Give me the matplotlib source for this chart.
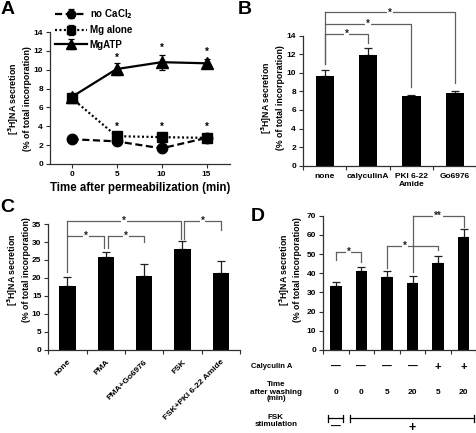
import numpy as np
import matplotlib
matplotlib.use("Agg")
import matplotlib.pyplot as plt
import matplotlib.transforms as mtransforms

plt.rcParams['font.family'] = ['Liberation Sans', 'DejaVu Sans']
plt.rcParams['font.weight'] = 'bold'

# ---------------- data ----------------
# Panel A
timeA = [0, 5, 10, 15]
noCa = [2.63, 2.4, 1.66, 2.77]
noCa_err = [0.1, 0.15, 0.4, 0.2]
mgAlone = [7.0, 2.95, 2.85, 2.77]
mgAlone_err = [0.2, 0.2, 0.2, 0.2]
mgATP = [7.1, 10.07, 10.8, 10.68]
mgATP_err = [0.3, 0.68, 0.8, 0.42]
seriesA_labels = ['no CaCl$_\\mathbf{2}$', 'Mg alone', 'MgATP']

# Panel B
catB = ['none', 'calyculinA', 'PKI 6-22\nAmide', 'Go6976']
valB = [9.66, 11.9, 7.47, 7.79]
errB = [0.64, 0.8, 0.1, 0.25]

# Panel C
catC = ['none', 'PMA', 'PMA+Go6976', 'FSK', 'FSK+PKI 6-22 Amide']
valC = [17.8, 25.7, 20.6, 28.1, 21.5]
errC = [2.6, 1.6, 3.2, 2.2, 3.3]

# Panel D
valD = [33.6, 41.2, 37.9, 35.1, 45.6, 59.1]
errD = [1.7, 2.3, 3.5, 3.5, 3.4, 3.9]
calyD = ['—', '—', '—', '—', '+', '+']
timeD = ['0', '0', '5', '20', '5', '20']

W, H = 477, 433
fig = plt.figure(figsize=(W / 100, H / 100), dpi=100)

def px_axes(x0, x1, ytop, ybot):
    return fig.add_axes([x0 / W, 1 - ybot / H, (x1 - x0) / W, (ybot - ytop) / H])

AX_COL = '#303030'
BR_COL = '#606060'
TICK_FS = 6
LAB_FS = 6.3

def style_axes(ax):
    for s in ['top', 'right']:
        ax.spines[s].set_visible(False)
    for s in ['left', 'bottom']:
        ax.spines[s].set_color(AX_COL)
        ax.spines[s].set_linewidth(0.9)
    ax.tick_params(which='both', direction='out', length=3, width=0.8,
                   color=AX_COL, labelsize=TICK_FS, pad=2)

def fig_ylabel(xpx, ypx):
    fig.text(xpx / W, 1 - ypx / H, '[$^\\mathbf{3}$H]NA secretion\n(% of total incorporation)',
             rotation=90, ha='center', va='center', multialignment='center',
             fontsize=LAB_FS, fontweight='bold', linespacing=1.2)

def bracket(ax, xl, xr, y, yl, yr, label, xs=None, draw_left=True):
    xs = (xl + xr) / 2 if xs is None else xs
    if draw_left:
        ax.plot([xl, xl], [yl, y], color=BR_COL, lw=0.9, clip_on=False)
    ax.plot([xl, xr, xr], [y, y, yr], color=BR_COL, lw=0.9, clip_on=False)
    ax.text(xs, y, label, ha='center', va='center', fontsize=7, fontweight='bold',
            color='#202020', clip_on=False,
            bbox=dict(facecolor='white', edgecolor='none', pad=0.6))

def cat_axes(ax, n):
    ax.set_xlim(-0.5, n - 0.5)
    ax.set_xticks(np.arange(n))
    ax.set_xticks(np.arange(-0.5, n, 1.0), minor=True)
    ax.tick_params(axis='x', which='major', length=0)

# ---------------- Panel A ----------------
axA = px_axes(50, 230, 32, 164)
style_axes(axA)
axA.set_xlim(-2.4, 17.6)
axA.set_ylim(0, 14)
axA.set_xticks(timeA)
axA.set_yticks(np.arange(0, 15, 2))
lw = 1.6
axA.errorbar(timeA, noCa, yerr=noCa_err, color='black', lw=lw, ls=(0, (3.2, 1.6)),
             marker='o', ms=7.5, capsize=2.5, elinewidth=0.9, capthick=0.9,
             label=seriesA_labels[0], clip_on=False, zorder=3)
axA.errorbar(timeA, mgAlone, yerr=mgAlone_err, color='black', lw=lw, ls=(0, (0.9, 1.1)),
             marker='s', ms=6.8, capsize=2.5, elinewidth=0.9, capthick=0.9,
             label=seriesA_labels[1], clip_on=False, zorder=3)
axA.errorbar(timeA, mgATP, yerr=mgATP_err, color='black', lw=lw, ls='-',
             marker='^', ms=8.8, capsize=2.5, elinewidth=0.9, capthick=0.9,
             label=seriesA_labels[2], clip_on=False, zorder=3)
for xs, ys in zip(timeA[1:], [11.25, 12.3, 11.9]):
    axA.text(xs, ys, '*', ha='center', va='center', fontsize=7)
for xs in timeA[1:]:
    axA.text(xs, 3.95, '*', ha='center', va='center', fontsize=7)
axA.set_xlabel('Time after permeabilization (min)', fontsize=8.3, fontweight='bold', labelpad=3)
leg = axA.legend(loc='upper left', bbox_to_anchor=(55 / W, 1 - 7 / H),
                 bbox_transform=fig.transFigure, frameon=False, fontsize=7,
                 handlelength=3.3, handletextpad=0.25, labelspacing=0.45,
                 borderpad=0, borderaxespad=0, markerscale=0.8)
fig_ylabel(19.5, 99)
fig.text(8 / W, 1 - 9 / H, 'A', fontsize=14, fontweight='bold', ha='center', va='center')

# ---------------- Panel B ----------------
axB = px_axes(303, 476.5, 35.7, 165.7)
style_axes(axB)
cat_axes(axB, len(catB))
axB.set_ylim(0, 14)
axB.set_yticks(np.arange(0, 15, 2))
xB = np.arange(len(catB))
axB.bar(xB, valB, width=0.42, color='black', zorder=2)
axB.errorbar(xB, valB, yerr=[np.zeros(len(valB)), errB], fmt='none', ecolor='#202020',
             capsize=3, elinewidth=0.9, capthick=0.9, zorder=1)
axB.set_xticklabels(catB, fontsize=6, fontweight='bold')
axB.tick_params(axis='x', which='major', pad=5)
bracket(axB, 0, 1, 14.2, 11.0, 13.2, '*')
bracket(axB, 0, 2, 15.25, 11.0, 8.5, '*', draw_left=False)
bracket(axB, 0, 3, 16.5, 11.0, 8.9, '*')
fig_ylabel(272.5, 97.5)
fig.text(245 / W, 1 - 9 / H, 'B', fontsize=14, fontweight='bold', ha='center', va='center')

# ---------------- Panel C ----------------
axC = px_axes(48.3, 240, 224, 350)
style_axes(axC)
cat_axes(axC, len(catC))
axC.set_ylim(0, 35)
axC.set_yticks(np.arange(0, 36, 5))
xC = np.arange(len(catC))
axC.bar(xC, valC, width=0.43, color='black', zorder=2)
axC.errorbar(xC, valC, yerr=[np.zeros(len(valC)), errC], fmt='none', ecolor='#202020',
             capsize=3, elinewidth=0.9, capthick=0.9, zorder=1)
axC.set_xticklabels(catC, fontsize=6, fontweight='bold', rotation=45, ha='right',
                    rotation_mode='anchor')
axC.tick_params(axis='x', which='major', pad=6)
d = 0.045
bracket(axC, 0, 3 - d, 35.8, 21.8, 30.8, '*')
bracket(axC, 3 + d, 4, 35.8, 30.8, 33.3, '*')
bracket(axC, 0, 1 - d, 31.8, 21.8, 28.2, '*', draw_left=False)
bracket(axC, 1 + d, 2, 31.8, 28.2, 30.0, '*')
fig_ylabel(18.5, 270)
fig.text(7 / W, 1 - 208 / H, 'C', fontsize=14, fontweight='bold', ha='center', va='center')

# ---------------- Panel D ----------------
axD = px_axes(323, 476.5, 215.7, 350)
style_axes(axD)
cat_axes(axD, len(valD))
axD.set_ylim(0, 70)
axD.set_yticks(np.arange(0, 71, 10))
xD = np.arange(len(valD))
axD.bar(xD, valD, width=0.45, color='black', zorder=2)
axD.errorbar(xD, valD, yerr=[np.zeros(len(valD)), errD], fmt='none', ecolor='#202020',
             capsize=3, elinewidth=0.9, capthick=0.9, zorder=1)
axD.set_xticklabels([])
bracket(axD, 0, 1, 51, 47, 46, '*')
bracket(axD, 2, 4, 54.3, 42.6, 52.2, '*', xs=2.71)
bracket(axD, 3, 5, 70.1, 40.9, 64.3, '**')
fig_ylabel(290, 270)
fig.text(258 / W, 1 - 216 / H, 'D', fontsize=14, fontweight='bold', ha='center', va='center')

transD = mtransforms.blended_transform_factory(axD.transData, fig.transFigure)
for xi, s in zip(xD, calyD):
    axD.text(xi, 1 - 367 / H, s, transform=transD, ha='center', va='center',
             fontsize=8 if s == '+' else 7, fontweight='bold', clip_on=False)
for xi, s in zip(xD, timeD):
    axD.text(xi, 1 - 392 / H, s, transform=transD, ha='center', va='center',
             fontsize=6, fontweight='bold', clip_on=False)
yb = 1 - 418 / H
cap = 3.5 / H
for x0, x1 in [(-0.3, 0.28), (0.56, 5.42)]:
    axD.plot([x0, x1], [yb, yb], color='black', lw=0.9, transform=transD, clip_on=False)
    for xx in (x0, x1):
        axD.plot([xx, xx], [yb - cap, yb + cap], color='black', lw=0.9,
                 transform=transD, clip_on=False)
axD.text(0, 1 - 427 / H, '—', transform=transD, ha='center', va='center',
         fontsize=7, fontweight='bold', clip_on=False)
axD.text(3, 1 - 428 / H, '+', transform=transD, ha='center', va='center',
         fontsize=9, fontweight='bold', clip_on=False)

fig.text(272 / W, 1 - 367 / H, 'Calyculin A', ha='center', va='center', fontsize=5.5,
         fontweight='bold')
fig.text(276 / W, 1 - 392 / H, 'Time\nafter washing\n(min)', ha='center', va='center',
         fontsize=5.8, fontweight='bold', linespacing=1.0)
fig.text(276 / W, 1 - 421 / H, 'FSK\nstimulation', ha='center', va='center',
         fontsize=5.8, fontweight='bold', linespacing=1.05)

fig.savefig('out.png', dpi=100)
